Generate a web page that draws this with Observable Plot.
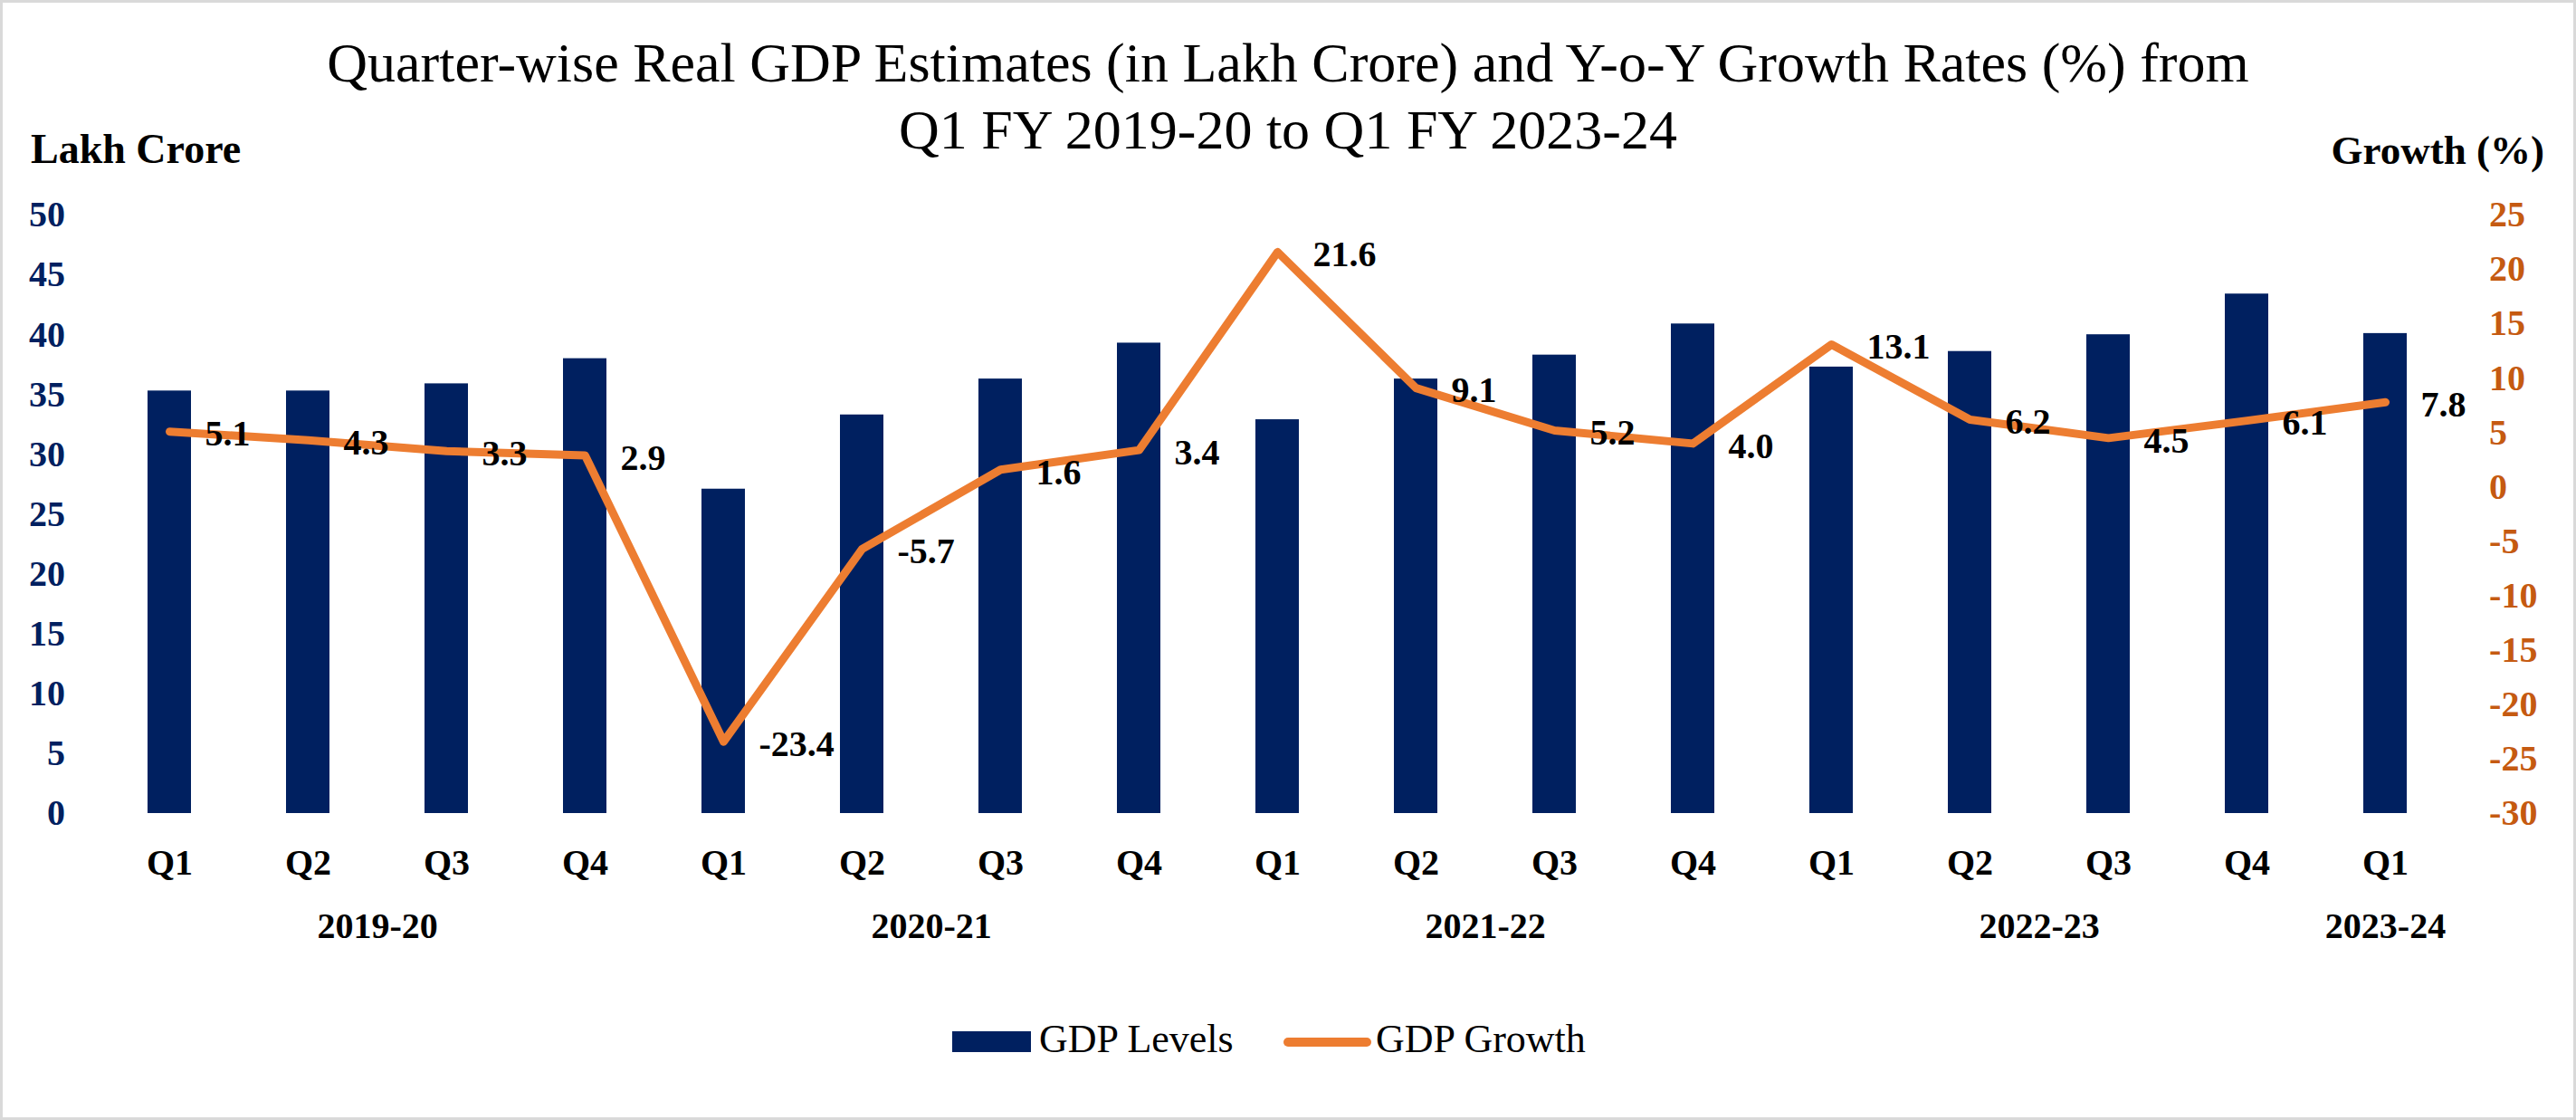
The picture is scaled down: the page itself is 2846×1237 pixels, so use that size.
<!DOCTYPE html>
<html>
<head>
<meta charset="utf-8">
<script src="https://cdn.jsdelivr.net/npm/d3@7"></script>
<script src="https://cdn.jsdelivr.net/npm/@observablehq/plot@0.6"></script>
<style>
  html, body { margin: 0; padding: 0; background: #fff; overflow: hidden; }
  #frame { position: relative; width: 2846px; height: 1237px; background: #fff;
           font-family: "Liberation Serif", "Times New Roman", serif; color: #000; }
  #border { position: absolute; left: 0; top: 0; width: 2846px; height: 1237px; box-sizing: border-box;
            border: 3px solid #d9d9d9; pointer-events: none; z-index: 10; }
  .abs { position: absolute; white-space: nowrap; line-height: 1; }
  #title { position: absolute; left: 0; top: 32px; width: 2846px; text-align: center;
           font-size: 62px; line-height: 74px; }
  #chart-bars, #chart-line { position: absolute; left: 0; top: 200px; }
  #chart-line svg { background: transparent !important; }
</style>
</head>
<body>
<div id="frame">
  <div id="title">Quarter-wise Real GDP Estimates (in Lakh Crore) and Y-o-Y Growth Rates (%) from<br>Q1 FY 2019-20 to Q1 FY 2023-24</div>
  <div class="abs" style="left:34px;top:141.5px;font-size:46px;font-weight:bold;">Lakh Crore</div>
  <div class="abs" style="right:35px;top:144.3px;font-size:45px;font-weight:bold;">Growth (%)</div>
  <div id="chart-bars"></div>
  <div id="chart-line"></div>
  <div id="legend">
    <div class="abs" style="left:1052px;top:1139px;width:87px;height:23px;background:#002060;"></div>
    <div class="abs" style="left:1148px;top:1126px;font-size:44px;">GDP Levels</div>
    <div class="abs" style="left:1418px;top:1146px;width:97px;height:10px;border-radius:5px;background:#ED7D31;"></div>
    <div class="abs" style="left:1520px;top:1126px;font-size:44px;">GDP Growth</div>
  </div>
  <div id="border"></div>
</div>
<script>
// ---- Data ----
const quarters = ["Q1","Q2","Q3","Q4","Q1","Q2","Q3","Q4","Q1","Q2","Q3","Q4","Q1","Q2","Q3","Q4","Q1"];
const fiscalYears = ["2019-20","2019-20","2019-20","2019-20","2020-21","2020-21","2020-21","2020-21",
                     "2021-22","2021-22","2021-22","2021-22","2022-23","2022-23","2022-23","2022-23","2023-24"];
const gdpLevels = [35.3, 35.3, 35.9, 38.0, 27.1, 33.3, 36.3, 39.3, 32.9, 36.3, 38.3, 40.9, 37.3, 38.6, 40.0, 43.4, 40.1];
const gdpGrowth = [5.1, 4.3, 3.3, 2.9, -23.4, -5.7, 1.6, 3.4, 21.6, 9.1, 5.2, 4.0, 13.1, 6.2, 4.5, 6.1, 7.8];
const yearLabels = ["2019-20","2020-21","2021-22","2022-23","2023-24"];
const leftTicks = [0,5,10,15,20,25,30,35,40,45,50];
const rightTicks = [-30,-25,-20,-15,-10,-5,0,5,10,15,20,25];

const data = quarters.map((q, i) => ({key: fiscalYears[i] + " " + q, quarter: q, year: fiscalYears[i],
                                      level: gdpLevels[i], growth: gdpGrowth[i]}));
const keys = data.map(d => d.key);

// ---- Layout ----
const W = 2846, H = 870, MT = 37, MB = 172, ML = 109.4, MR = 133.4;
const step = (W - ML - MR) / keys.length;
const xScale = {type: "band", domain: keys, paddingInner: 0.6865, paddingOuter: 0.343, align: 0.5, axis: null};
const FONT = '"Liberation Serif", "Times New Roman", serif';

// Year labels: full years centred between Q2 and Q3; partial year under its single quarter
const fullYears = yearLabels.filter(y => fiscalYears.filter(f => f === y).length === 4).map(y => ({year: y, key: y + " Q2"}));
const partYears = yearLabels.filter(y => fiscalYears.filter(f => f === y).length < 4).map(y => ({year: y, key: y + " Q1"}));

const bars = Plot.plot({
  width: W, height: H, marginTop: MT, marginBottom: MB, marginLeft: ML, marginRight: MR,
  style: {fontFamily: FONT, background: "white", overflow: "visible"},
  x: xScale,
  y: {domain: [0, 50], axis: null},
  marks: [
    Plot.barY(data, {x: "key", y: "level", fill: "#002060"}),
    Plot.axisY({anchor: "left", ticks: leftTicks, tickSize: 0, tickPadding: 38, fontSize: 40, fontWeight: "bold",
                color: "#002060", label: null, tickFormat: d => String(d)}),
    Plot.axisX({anchor: "bottom", tickSize: 0, tickPadding: 39, fontSize: 40, fontWeight: "bold",
                color: "#000", label: null, tickFormat: d => d.split(" ")[1]}),
    Plot.text(fullYears, {x: "key", text: "year", frameAnchor: "bottom", dy: 137, dx: step / 2,
                          fontSize: 40, fontWeight: "bold", fill: "#000"}),
    Plot.text(partYears, {x: "key", text: "year", frameAnchor: "bottom", dy: 137,
                          fontSize: 40, fontWeight: "bold", fill: "#000"})
  ]
});
document.getElementById("chart-bars").appendChild(bars);

const line = Plot.plot({
  width: W, height: H, marginTop: MT, marginBottom: MB, marginLeft: ML, marginRight: MR,
  style: {fontFamily: FONT, background: "transparent", overflow: "visible"},
  x: xScale,
  y: {domain: [-30, 25], axis: null},
  marks: [
    Plot.axisY({anchor: "right", ticks: rightTicks, tickSize: 0, tickPadding: 37, fontSize: 40, fontWeight: "bold",
                color: "#C55A11", label: null, tickFormat: d => String(d)}),
    Plot.lineY(data, {x: "key", y: "growth", stroke: "#ED7D31", strokeWidth: 9,
                      strokeLinecap: "round", strokeLinejoin: "round"}),
    Plot.text(data, {x: "key", y: "growth", text: d => d.growth.toFixed(1), textAnchor: "start", dx: 39, dy: 3,
                     fontSize: 40, fontWeight: "bold", fill: "#000"})
  ]
});
document.getElementById("chart-line").appendChild(line);
</script>
</body>
</html>
